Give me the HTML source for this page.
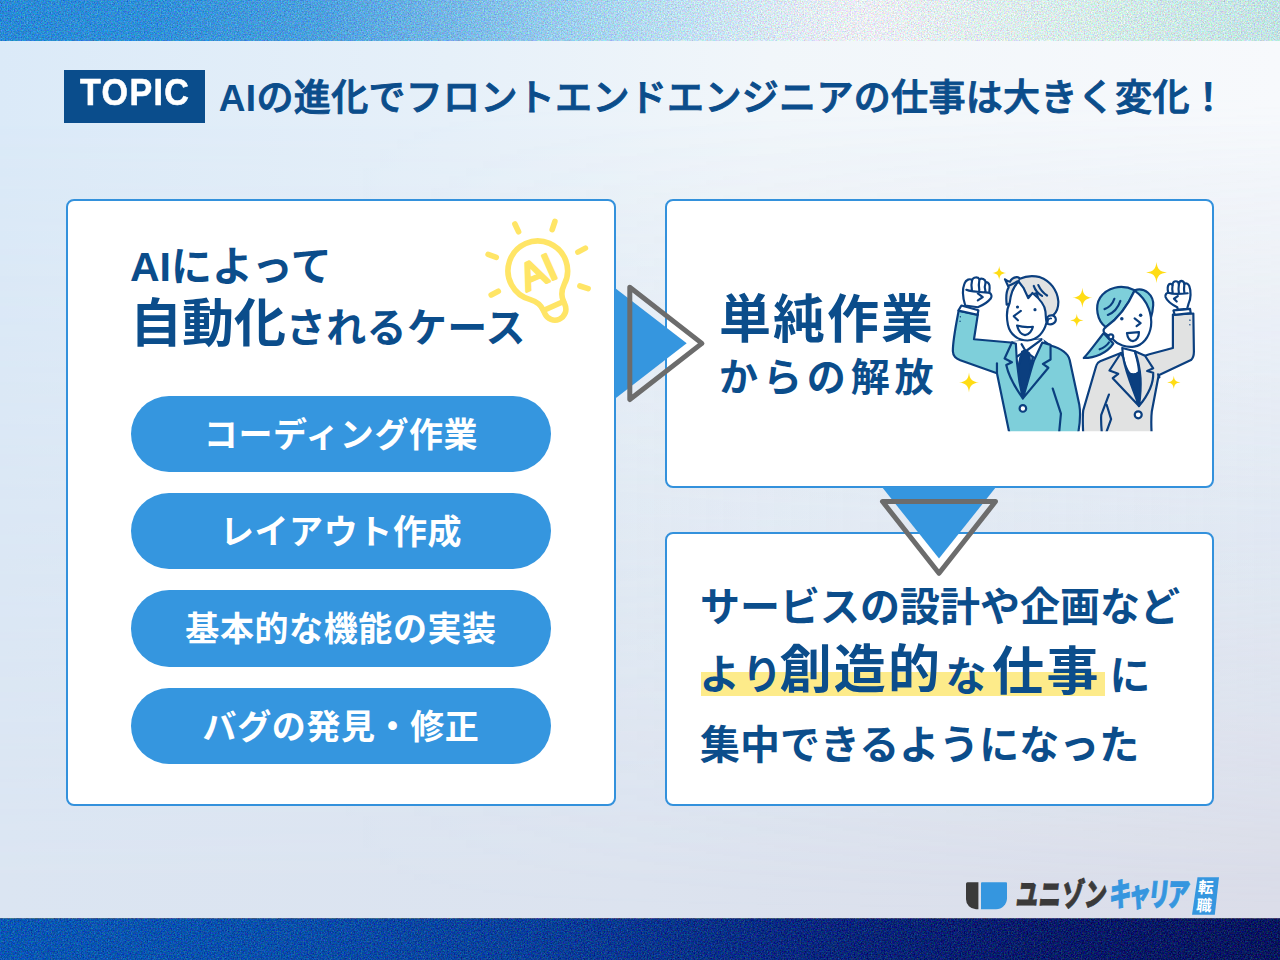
<!DOCTYPE html>
<html lang="ja">
<head>
<meta charset="utf-8">
<title>AIの進化でフロントエンドエンジニアの仕事は大きく変化！</title>
<style>
html,body{margin:0;padding:0;}
body{width:1280px;height:960px;overflow:hidden;position:relative;
  font-family:"Liberation Sans","Noto Sans CJK JP",sans-serif;color:#0b4d8b;}
.abs{position:absolute;}
#bg{left:0;top:0;width:1280px;height:960px;background:linear-gradient(90deg,#dbeaf8 0%,#e6f0f9 35%,#f1f6fa 60%,#f7f9fc 100%);}
#bg2{left:0;top:0;width:1280px;height:960px;background:linear-gradient(90deg,#dbe5f2 0%,#dce3ef 50%,#dbdde9 100%);
  -webkit-mask-image:linear-gradient(180deg,rgba(0,0,0,0) 12%,rgba(0,0,0,1) 92%);mask-image:linear-gradient(180deg,rgba(0,0,0,0) 12%,rgba(0,0,0,1) 92%);}
#bg3{left:0;top:0;width:1280px;height:960px;background:linear-gradient(90deg,rgba(200,228,248,0) 25%,rgba(200,228,248,0.220) 100%);
  -webkit-mask-image:linear-gradient(180deg,rgba(0,0,0,0) 10%,rgba(0,0,0,1) 55%,rgba(0,0,0,0) 95%);mask-image:linear-gradient(180deg,rgba(0,0,0,0) 10%,rgba(0,0,0,1) 55%,rgba(0,0,0,0) 95%);}
.card{background:#fff;border:2px solid #3391dc;border-radius:8px;box-sizing:border-box;}
#topic{left:64px;top:70.400px;width:141px;height:52.800px;background:#0a4d8c;}
#topic span{position:absolute;left:15.500px;top:2.600px;color:#fff;font-weight:bold;font-size:37px;line-height:40px;letter-spacing:1.500px;white-space:nowrap;transform-origin:0 50%;transform:scaleX(0.920);-webkit-text-stroke:0.600px #fff;}
#title{left:218.800px;top:70.500px;font-size:37px;line-height:56px;font-weight:500;letter-spacing:0.330px;white-space:nowrap;-webkit-text-stroke:1px #0b4d8b;}
#title b{font-weight:bold;-webkit-text-stroke:0;}
.pill{left:131px;width:420px;height:76.300px;border-radius:38.200px;background:#3596df;color:#fff;
  font-weight:bold;font-size:34px;line-height:79px;letter-spacing:0.600px;text-align:center;white-space:nowrap;}
.t{white-space:nowrap;font-weight:bold;}
</style>
</head>
<body>
<div id="bg" class="abs"></div>
<div id="bg2" class="abs"></div>
<div id="bg3" class="abs"></div>
<svg class="abs" style="left:0;top:0" width="1280" height="960" viewBox="0 0 1280 960">
  <defs>
    <linearGradient id="gt" x1="0" y1="0" x2="1" y2="0">
      <stop offset="0" stop-color="#2a89d5"/><stop offset="0.120" stop-color="#318fd8"/><stop offset="0.250" stop-color="#4da0de"/>
      <stop offset="0.360" stop-color="#79b9e6"/><stop offset="0.450" stop-color="#9fd0ed"/><stop offset="0.550" stop-color="#c6e1f2"/>
      <stop offset="0.630" stop-color="#e2ebf3"/><stop offset="0.680" stop-color="#ebeef4"/><stop offset="0.760" stop-color="#e0edee"/>
      <stop offset="0.860" stop-color="#d5ebe8"/><stop offset="1" stop-color="#c2e2e3"/>
    </linearGradient>
    <linearGradient id="gb" x1="0" y1="0" x2="1" y2="0">
      <stop offset="0" stop-color="#0957b3"/><stop offset="0.200" stop-color="#0950ab"/><stop offset="0.420" stop-color="#093f99"/>
      <stop offset="0.620" stop-color="#08297f"/><stop offset="0.800" stop-color="#071c6b"/><stop offset="1" stop-color="#06165e"/>
    </linearGradient>
    <filter id="nz" x="0" y="0" width="100%" height="100%" color-interpolation-filters="sRGB">
      <feTurbulence type="fractalNoise" baseFrequency="0.700" numOctaves="3" seed="7" result="t"/>
      <feColorMatrix in="t" type="matrix" values="1 0 0 0 0  0 1 0 0 0  0 0 1 0 0  0 0 0 0 1" result="n"/>
      <feComposite in="SourceGraphic" in2="n" operator="arithmetic" k1="0" k2="1" k3="0.500" k4="-0.250"/>
    </filter>
  </defs>
  <rect x="0" y="0" width="1280" height="41" fill="url(#gt)" filter="url(#nz)"/>
  <rect x="0" y="918.500" width="1280" height="41.500" fill="url(#gb)" filter="url(#nz)"/>
</svg>

<div id="topic" class="abs"><span>TOPIC</span></div>
<div id="title" class="abs"><b>AI</b>の進化でフロントエンドエンジニアの仕事は大きく変化！</div>

<div class="abs card" style="left:66px;top:199px;width:550px;height:607px;"></div>
<div class="abs card" style="left:664.500px;top:199px;width:549.500px;height:289px;"></div>
<div class="abs card" style="left:664.500px;top:532px;width:549.500px;height:274px;"></div>

<!-- arrows -->
<svg class="abs" style="left:0;top:0" width="1280" height="960" viewBox="0 0 1280 960">
  <polygon points="615,288 686.7,343.3 615,398.700" fill="#3596df"/>
  <polygon points="882,487 996,487 939,558.600" fill="#3596df"/>
  <polygon points="629.8,287.3 701.9,343.4 629.8,399.500" fill="none" stroke="#6c6c6c" stroke-width="5" stroke-linejoin="round"/>
  <polygon points="882.5,501.5 995.5,501.5 939,573.300" fill="none" stroke="#6c6c6c" stroke-width="5" stroke-linejoin="round"/>
</svg>

<div class="abs t" style="left:130px;top:238.500px;font-size:41px;line-height:56px;">AIによって</div>
<div class="abs t" style="left:130px;top:288px;font-size:40px;line-height:72px;letter-spacing:0.300px;"><span style="font-size:52px;letter-spacing:0;">自動化</span>されるケース</div>

<svg class="abs" style="left:470px;top:200px" width="140" height="140" viewBox="470 200 140 140">
  <g fill="none" stroke="#ffe566" stroke-width="5.600" stroke-linecap="round" stroke-linejoin="round">
    <line x1="514.9" y1="224" x2="518.6" y2="231.800"/>
    <line x1="554.9" y1="221.500" x2="552.2" y2="229.600"/>
    <line x1="585.4" y1="248.100" x2="577.9" y2="252.100"/>
    <line x1="579.9" y1="286" x2="588.1" y2="288.700"/>
    <line x1="488.1" y1="254.400" x2="496.3" y2="257.400"/>
    <line x1="491.2" y1="295" x2="498.3" y2="291.300"/>
    <g transform="translate(537.800,270.800) rotate(-24)">
      <path d="M -11,38.500 C -11,32 -13,28 -18.500,23.300 A 29.800,29.800 0 1 1 18.500,23.300 C 13,28 11,32 11,38.500 L 11,42 A 11,11 0 0 1 -11,42 Z"/>
      <line x1="-11" y1="38.500" x2="11" y2="38.500"/>
    </g>
  </g>
  <g transform="translate(537.800,270.800) rotate(-24)">
    <text x="-0.500" y="14.300" text-anchor="middle" font-family="'Liberation Sans',sans-serif" font-size="38" fill="#ffe566" stroke="#ffe566" stroke-width="2.800" stroke-linejoin="round">AI</text>
  </g>
</svg>

<div class="abs pill" style="top:395.600px;">コーディング作業</div>
<div class="abs pill" style="top:493px;">レイアウト作成</div>
<div class="abs pill" style="top:590.400px;">基本的な機能の実装</div>
<div class="abs pill" style="top:687.800px;">バグの発見・修正</div>

<div class="abs t" style="left:719px;top:284.500px;font-size:52px;line-height:70px;letter-spacing:2px;">単純作業</div>
<div class="abs t" style="left:719px;top:350px;font-size:39px;line-height:56px;letter-spacing:4.900px;">からの解放</div>

<!--PEOPLE_START--><svg class="abs" style="left:940px;top:250px" width="280" height="200" viewBox="940 250 280 200">
 <defs>
  <clipPath id="pc"><rect x="940" y="250" width="280" height="181.300"/></clipPath>
 </defs>
 <!-- sparkles -->
 <g fill="#ffdc14">
  <path transform="translate(999.200,273) scale(7)" d="M0,-1 C0.080,-0.300 0.300,-0.080 1,0 C0.300,0.080 0.080,0.300 0,1 C-0.080,0.300 -0.300,0.080 -1,0 C-0.300,-0.080 -0.080,-0.300 0,-1Z"/>
  <path transform="translate(969,382.600) scale(10)" d="M0,-1 C0.080,-0.300 0.300,-0.080 1,0 C0.300,0.080 0.080,0.300 0,1 C-0.080,0.300 -0.300,0.080 -1,0 C-0.300,-0.080 -0.080,-0.300 0,-1Z"/>
  <path transform="translate(1082.400,297.700) scale(10)" d="M0,-1 C0.080,-0.300 0.300,-0.080 1,0 C0.300,0.080 0.080,0.300 0,1 C-0.080,0.300 -0.300,0.080 -1,0 C-0.300,-0.080 -0.080,-0.300 0,-1Z"/>
  <path transform="translate(1076.800,320.400) scale(6.600)" d="M0,-1 C0.080,-0.300 0.300,-0.080 1,0 C0.300,0.080 0.080,0.300 0,1 C-0.080,0.300 -0.300,0.080 -1,0 C-0.300,-0.080 -0.080,-0.300 0,-1Z"/>
  <path transform="translate(1156.500,272.500) scale(10.400)" d="M0,-1 C0.080,-0.300 0.300,-0.080 1,0 C0.300,0.080 0.080,0.300 0,1 C-0.080,0.300 -0.300,0.080 -1,0 C-0.300,-0.080 -0.080,-0.300 0,-1Z"/>
  <path transform="translate(1173.800,382.400) scale(6.600)" d="M0,-1 C0.080,-0.300 0.300,-0.080 1,0 C0.300,0.080 0.080,0.300 0,1 C-0.080,0.300 -0.300,0.080 -1,0 C-0.300,-0.080 -0.080,-0.300 0,-1Z"/>
 </g>
 <g clip-path="url(#pc)">
 <!-- MAN -->
 <g transform="translate(945,255) scale(0.109375)" stroke="#0b3f7f" stroke-width="20" stroke-linejoin="round" stroke-linecap="round" fill="none">
  <!-- body -->
  <path fill="#7ecfda" d="M125,510 C100,640 70,790 72,880 C74,930 100,945 140,962 L475,1081 L595,1660 L1212,1660 C1240,1520 1240,1440 1228,1370 L1140,960 C1125,900 1080,860 965,828 L880,770 L600,800 L265,770 L300,545 Z"/>
  <!-- shirt -->
  <path fill="#fff" stroke="none" d="M620,790 L900,770 L940,900 L712,1310 L600,950 Z"/>
  <!-- tie -->
  <path fill="#0b3f7f" d="M705,885 L735,872 L770,900 L785,1060 L715,1292 L665,1062 Z"/>
  <!-- shirt collar lines -->
  <path d="M700,815 L738,880 L880,775"/>
  <path d="M655,930 L735,880 L815,940"/>
  <path d="M665,1062 L690,935 M785,1060 L800,935"/>
  <!-- lapels -->
  <path fill="#7ecfda" d="M612,800 L545,946 L612,981 L560,1006 C580,1100 640,1210 712,1311 C680,1180 655,1060 648,812 Z"/>
  <path fill="#7ecfda" d="M965,822 L965,956 L895,996 L945,1031 L712,1311 C760,1150 790,1030 815,960 L890,800 Z"/>
  <!-- button -->
  <circle cx="712" cy="1403" r="30" fill="#fff"/>
  <!-- arm lines -->
  <path d="M475,991 L475,1081"/>
  <path d="M985,1221 L1060,1451 L1040,1660"/>
  <!-- cuff buttons -->
  <path d="M140,565 L141,566 M137,605 L138,606" stroke-width="12"/>
  <!-- cuff -->
  <path fill="#fff" d="M150,462 L305,505 L298,548 L122,508 Z"/>
  <!-- fist -->
  <path fill="#fff" d="M185,462 C165,400 150,330 178,262 C192,222 228,215 248,228 C258,200 300,198 315,222 C335,208 368,222 372,248 C395,245 412,268 408,300 L405,345 C425,355 432,378 418,398 C385,440 345,460 300,478 Z"/>
  <path d="M248,228 C240,260 240,290 246,318 M315,222 C308,255 308,290 314,322 M372,248 C362,275 362,305 370,330 M195,318 C230,335 290,338 405,345 M300,350 L345,385 L300,415"/>
  <g transform="translate(411.430,118.860) scale(0.761900)" stroke-width="26">
  <!-- hair back (H coords: 990,268 scale 1/12) -->
  <path fill="#e1e2e2" d="M200,440 C190,350 196,275 224,232 L180,135 C200,150 220,160 240,165 C250,140 280,115 320,110 C335,108 350,118 357,130 C420,100 520,90 600,110 C720,150 810,270 820,400 C822,470 800,530 760,565 L650,620 L560,300 Z"/>
  <!-- ear -->
  <path fill="#fff" d="M690,590 C720,555 785,565 790,615 C792,660 740,690 690,668 Z"/>
  <path d="M690,635 C700,612 720,602 735,606" stroke-width="20"/>
  <!-- face -->
  <path fill="#fff" d="M236,420 C205,480 195,580 215,680 C240,800 340,870 450,870 C570,865 650,770 678,655 C668,600 670,560 665,520 C660,450 620,390 510,300 L460,362 L400,235 L345,165 C295,205 250,290 236,420 Z"/>
  <!-- tuft inner line -->
  <path d="M222,215 C255,200 300,182 345,152"/>
  <!-- hair strands -->
  <path d="M525,215 C540,260 580,310 625,335 M580,205 C600,250 640,300 685,330"/>
  <!-- eyes -->
  <circle cx="330" cy="468" r="19" fill="#0b3f7f" stroke="none"/>
  <circle cx="540" cy="500" r="19" fill="#0b3f7f" stroke="none"/>
  <!-- nose -->
  <path d="M370,515 L285,578 L335,628"/>
  <!-- mouth -->
  <path fill="#fff" d="M325,690 C380,708 450,712 515,705 C505,750 470,800 420,805 C375,800 340,750 325,690 Z"/>
  </g>
 </g>
 <!-- WOMAN -->
 <g transform="translate(1075,255) scale(0.109375)" stroke="#0b3f7f" stroke-width="20" stroke-linejoin="round" stroke-linecap="round" fill="none">
  <!-- ponytail -->
  <path fill="#7ecfda" d="M262,715 C200,790 140,880 80,942 C180,940 290,900 350,810 Z"/>
  <path d="M225,862 C262,850 290,830 310,800"/>
  <!-- body -->
  <path fill="#e1e2e2" d="M895,545 L895,850 L680,908 L640,921 L420,896 L230,971 C210,980 200,990 195,1010 L75,1421 C68,1480 70,1540 76,1660 L702,1660 C695,1540 695,1490 702,1431 L765,1100 L1060,961 C1080,945 1088,920 1087,880 L1082,535 Z"/>
  <!-- neck -->
  <path fill="#fff" d="M432,850 L440,935 C455,1010 480,1060 500,1085 C530,1100 560,1095 585,1070 C585,1000 560,930 548,880 Z"/>
  <!-- inner navy -->
  <path fill="#0b3f7f" d="M485,1075 C520,1100 560,1100 600,1062 L600,1290 L585,1371 Z"/>
  <!-- lapels -->
  <path fill="#e1e2e2" d="M420,896 L315,1056 L395,1086 L345,1126 L585,1381 C530,1220 470,1100 440,935 Z"/>
  <path fill="#e1e2e2" d="M548,880 L640,921 L715,1036 L660,1061 L715,1076 C720,1180 660,1290 585,1381 C610,1200 610,1050 548,880 Z"/>
  <!-- button -->
  <circle cx="578" cy="1461" r="32" fill="#fff"/>
  <!-- arm lines -->
  <path d="M310,1276 L240,1461 C235,1520 240,1560 248,1660"/>
  <path d="M290,1371 L330,1501 L272,1660"/>
  <path d="M760,1091 L772,1118"/>
  <!-- cuff -->
  <path fill="#fff" d="M900,507 L1052,493 L1058,532 L912,548 Z"/>
  <path d="M1050,595 L1051,596 M1050,638 L1051,639" stroke-width="12"/>
  <!-- fist -->
  <path fill="#fff" d="M940,500 L935,478 C880,450 840,415 828,385 C822,360 838,348 852,345 C845,310 846,285 856,272 C866,258 886,262 892,275 C893,250 905,240 922,240 C940,240 948,252 950,268 C952,245 965,236 975,236 C990,238 998,250 1000,265 C1010,255 1035,258 1045,285 C1062,330 1060,400 1040,440 L1025,492 Z"/>
  <path d="M892,275 C888,300 888,325 893,345 M950,268 C945,300 945,330 950,350 M1000,265 C996,295 996,325 1000,350 M852,345 C900,362 960,358 1030,350 M940,375 L905,400 L930,425"/>
  <!-- hair (whole head top) -->
  <path fill="#7ecfda" d="M282,660 C200,600 180,470 230,390 C290,300 420,260 545,322 C640,290 720,370 715,460 C712,520 700,560 690,590 L545,325 C480,470 380,590 282,660 Z"/>
  <!-- face -->
  <path fill="#fff" d="M545,325 C480,470 380,590 282,660 C262,672 255,690 268,712 C285,730 300,735 315,740 C330,750 340,760 350,775 C390,820 470,850 540,838 C620,825 680,750 695,650 C705,560 680,420 545,325 Z"/>
  <!-- ear -->
  <circle cx="328" cy="748" r="22" fill="#fff"/>
  <!-- hair strands -->
  <path d="M270,495 C310,480 345,445 360,400 M300,548 C350,530 395,480 415,420"/>
  <!-- eyes -->
  <circle cx="428" cy="583" r="16" fill="#0b3f7f" stroke="none"/>
  <circle cx="600" cy="550" r="16" fill="#0b3f7f" stroke="none"/>
  <!-- nose -->
  <path d="M545,580 L600,622 L563,650"/>
  <!-- mouth -->
  <path fill="#fff" d="M475,715 C510,712 550,708 585,705 C585,745 565,785 530,788 C500,785 480,755 475,715 Z"/>
 </g>
 </g>
</svg>
<!--PEOPLE_END-->

<div class="abs" style="left:701px;top:671.600px;width:404px;height:24.400px;background:#fdeb8a;"></div>
<div class="abs t" style="left:700px;top:577.300px;font-size:40px;line-height:60px;">サービスの設計や企画など</div>
<div class="abs t" id="l2a" style="left:699.500px;top:638.700px;font-size:40.500px;line-height:72px;letter-spacing:2.500px;">より</div>
<div class="abs t" id="l2b" style="left:779.500px;top:633.600px;font-size:52px;line-height:72px;letter-spacing:2.200px;">創造的</div>
<div class="abs t" id="l2c" style="left:945.500px;top:640.900px;font-size:41px;line-height:72px;">な</div>
<div class="abs t" id="l2d" style="left:992px;top:636.400px;font-size:52px;line-height:72px;letter-spacing:2.500px;">仕事</div>
<div class="abs t" id="l2e" style="left:1109.500px;top:639.900px;font-size:41px;line-height:72px;">に</div>
<div class="abs t" style="left:700px;top:714.500px;font-size:40px;line-height:60px;">集中できるようになった</div>

<svg class="abs" style="left:960px;top:870px" width="270" height="48" viewBox="960 870 270 48">
  <path d="M967.500,882.200 H978.400 V909.200 H976 A10,10 0 0 1 966,899.200 V883.700 A1.500,1.500 0 0 1 967.500,882.200Z" fill="#3a3a3a"/>
  <path d="M982,882.200 H1006 A1,1 0 0 1 1007,883.200 V898.200 A11,11 0 0 1 996,909.200 H981 V883.200 A1,1 0 0 1 982,882.200Z" fill="#3596df"/>
  <polygon points="1197.500,877.300 1219,877.300 1214.800,914.800 1192,914.800" fill="#3596df"/>
</svg>
<div class="abs" id="logot" style="left:1013.500px;top:872.500px;font-family:'Liberation Sans','Noto Sans CJK JP',sans-serif;font-weight:900;font-size:32px;line-height:44px;white-space:nowrap;color:#3a3a3a;transform-origin:0 100%;transform:scaleX(0.690) skewX(-9deg);letter-spacing:1px;-webkit-text-stroke:0.900px currentColor;">ユニゾン<span style="color:#3596df;margin-left:3px;letter-spacing:-4.200px;">キャリア</span></div>
<div class="abs" style="left:1194.500px;top:878.500px;width:20px;font-family:'Liberation Sans','Noto Sans CJK JP',sans-serif;font-weight:bold;font-size:15.500px;line-height:17.500px;color:#fff;text-align:center;transform:skewX(-6deg);">転<br>職</div>


</body>
</html>
